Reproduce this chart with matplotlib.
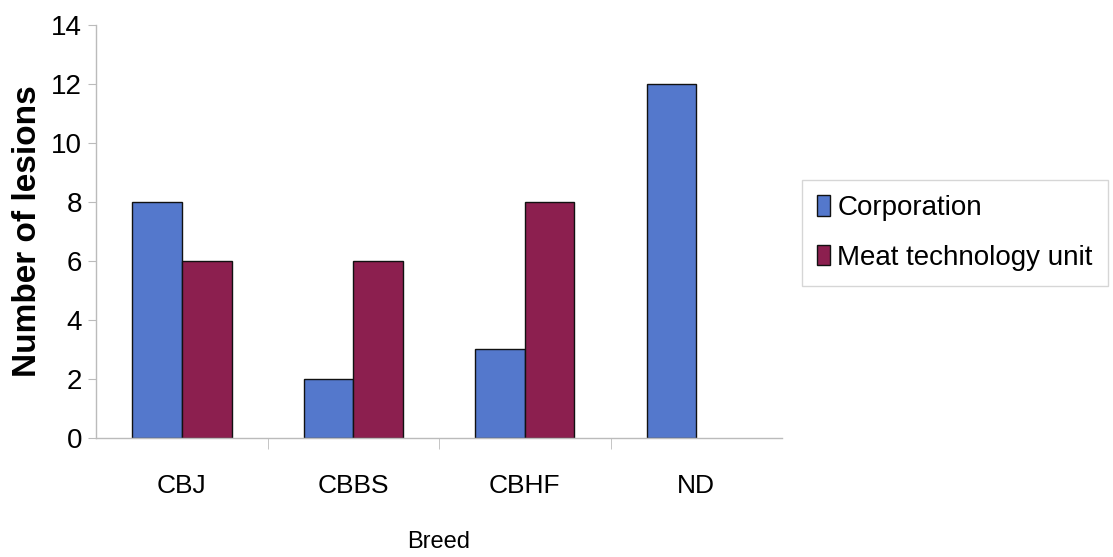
import matplotlib.pyplot as plt
import numpy as np

breeds = ["CBJ", "CBBS", "CBHF", "ND"]
corporation = [8, 2, 3, 12]
meat_unit = [6, 6, 8, 0]
series_names = ["Corporation", "Meat technology unit"]
y_ticks = [0, 2, 4, 6, 8, 10, 12, 14]

plt.rcParams["font.family"] = ["Liberation Sans", "DejaVu Sans"]

fig = plt.figure(figsize=(11.13, 5.57), dpi=100)
ax = fig.add_axes([0.0863, 0.2137, 0.6163, 0.7413])

x = np.arange(len(breeds))
w = 0.29
colors = ["#5478cc", "#8c1f4f"]
for i, (vals, name) in enumerate(zip([corporation, meat_unit], series_names)):
    bars = ax.bar(x + (i - 0.5) * w, vals, w, color=colors[i], edgecolor="#111111",
                  linewidth=1.0, label=name)
    # an empty category gets no outline at all
    for b, v in zip(bars, vals):
        if v == 0:
            b.set_linewidth(0)

ax.set_xlim(-0.5, len(breeds) - 0.5)
ax.set_ylim(0, 14)
ax.set_yticks(y_ticks)
ax.set_yticklabels([str(v) for v in y_ticks], fontsize=20)
ax.set_xticks(x)
ax.set_xticklabels(breeds, fontsize=19)
ax.set_xticks(x[:-1] + 0.5, minor=True)
ax.tick_params(axis="x", which="major", length=0, pad=26)
ax.tick_params(axis="x", which="minor", length=8, color="#bbbbbb", direction="out")
ax.tick_params(axis="y", length=6, color="#bbbbbb", pad=4)

for side in ("top", "right"):
    ax.spines[side].set_visible(False)
for side in ("left", "bottom"):
    ax.spines[side].set_color("#bbbbbb")
    ax.spines[side].set_linewidth(1.0)

ax.set_ylabel("Number of lesions", fontsize=24, fontweight="bold", labelpad=6)
ax.set_xlabel("Breed", fontsize=17, labelpad=24)

leg = fig.legend(loc="upper left", bbox_to_anchor=(0.7206, 0.6768),
                 prop={"size": 20},
                 frameon=True, fancybox=False, handlelength=0.47, handleheight=0.75,
                 handletextpad=0.25, labelspacing=0.85, borderpad=0.55, borderaxespad=0)
leg.get_frame().set_edgecolor("#cccccc")
leg.get_frame().set_linewidth(1.0)

fig.savefig("out.png", dpi=100, facecolor="white")
